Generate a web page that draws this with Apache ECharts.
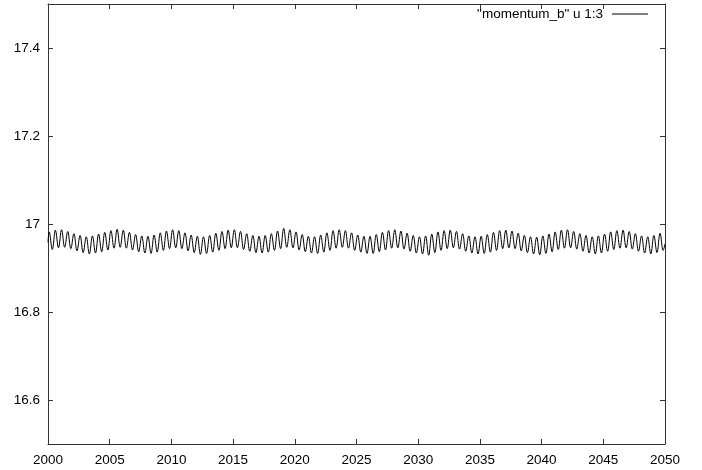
<!DOCTYPE html>
<html>
<head>
<meta charset="utf-8">
<script src="https://cdn.jsdelivr.net/npm/echarts@6/dist/echarts.min.js"></script>
<style>html,body{margin:0;padding:0;background:#fff}#c{width:702px;height:470px}</style>
</head>
<body>
<div id="c"></div>
<script>
// Semi-annual oscillation: peak and trough values
const seriesName = '"momentum_b" u 1:3';
const firstYear = 2000, lastYear = 2050;
const startValue = 16.958, endValue = 16.955;
const peakYearOffset = 0.1, troughYearOffset = 0.35, halfYear = 0.5;
const peaks = [
 16.982,16.986,16.987,16.983,16.978,16.974,16.971,16.973,16.977,
 16.981,16.985,16.988,16.986,16.981,16.976,16.973,16.972,16.975,
 16.980,16.984,16.987,16.985,16.980,16.975,16.972,16.971,16.974,
 16.979,16.983,16.986,16.987,16.983,16.978,16.974,16.972,16.974,
 16.978,16.984,16.990,16.987,16.982,16.976,16.972,16.971,16.975,
 16.980,16.985,16.987,16.985,16.980,16.975,16.972,16.972,16.976,
 16.981,16.985,16.987,16.984,16.979,16.974,16.971,16.973,16.977,
 16.982,16.985,16.986,16.983,16.978,16.973,16.971,16.972,16.976,
 16.981,16.985,16.986,16.984,16.979,16.974,16.971,16.970,16.973,
 16.977,16.982,16.986,16.987,16.983,16.978,16.974,16.971,16.973,
 16.977,16.982,16.985,16.986,16.983,16.978,16.973,16.971,16.974,16.979
];
const troughs = [
 16.942,16.946,16.947,16.944,16.939,16.935,16.932,16.934,16.937,
 16.941,16.945,16.947,16.945,16.941,16.937,16.934,16.933,16.936,
 16.940,16.944,16.946,16.944,16.939,16.935,16.931,16.933,16.936,
 16.940,16.944,16.946,16.946,16.942,16.938,16.935,16.934,16.936,
 16.940,16.944,16.947,16.946,16.941,16.937,16.934,16.933,16.936,
 16.940,16.945,16.947,16.945,16.940,16.936,16.933,16.933,16.937,
 16.941,16.945,16.946,16.943,16.938,16.934,16.932,16.929,16.935,
 16.940,16.944,16.946,16.943,16.938,16.934,16.932,16.933,16.936,
 16.940,16.944,16.946,16.944,16.939,16.935,16.932,16.930,16.933,
 16.937,16.942,16.945,16.946,16.943,16.938,16.934,16.932,16.934,
 16.938,16.942,16.945,16.946,16.943,16.938,16.934,16.932,16.935,16.940
];
const yTicks = [16.6, 16.8, 17, 17.2, 17.4];
const yMin = 16.5, yMax = 17.5;

const data = [[firstYear, startValue]];
for (let i = 0; i < peaks.length; i++) {
  data.push([firstYear + peakYearOffset + i * halfYear, peaks[i]]);
  data.push([firstYear + troughYearOffset + i * halfYear, troughs[i]]);
}
data.push([lastYear, endValue]);

const axisColor = '#333';
const font = 'Liberation Sans, Arial, sans-serif';
const fs = 13.5;
const chart = echarts.init(document.getElementById('c'), null, {renderer: 'canvas'});
const xCommon = {
  type: 'value', min: firstYear, max: lastYear, interval: 5,
  axisLine: {show: true, onZero: false, lineStyle: {color: axisColor, width: 1}},
  axisTick: {show: true, inside: true, length: 5, lineStyle: {color: axisColor}},
  splitLine: {show: false}
};
const yCommon = {
  type: 'value', min: yMin, max: yMax,
  axisLine: {show: true, onZero: false, lineStyle: {color: axisColor, width: 1}},
  axisTick: {show: true, inside: true, length: 5, customValues: yTicks, lineStyle: {color: axisColor}},
  splitLine: {show: false}
};
chart.setOption({
  animation: false,
  backgroundColor: '#fff',
  grid: {left: 48, right: 37, top: 4, bottom: 26, containLabel: false},
  legend: {
    show: true, right: 54, top: 7, bottom: 'auto', left: 'auto', align: 'right', orient: 'horizontal',
    itemWidth: 36, itemHeight: 1, itemGap: 0, padding: 0,
    icon: 'rect',
    textStyle: {fontFamily: font, fontSize: fs, color: '#000', padding: [0, 4, 0, 0]},
    data: [{name: seriesName, icon: 'rect', itemStyle: {color: '#000'}}]
  },
  xAxis: [
    Object.assign({}, xCommon, {position: 'bottom',
      axisLabel: {show: true, color: '#000', fontFamily: font, fontSize: fs, margin: 9, formatter: v => String(v)}}),
    Object.assign({}, xCommon, {position: 'top', axisLabel: {show: false}})
  ],
  yAxis: [
    Object.assign({}, yCommon, {position: 'left',
      axisLabel: {show: true, color: '#000', fontFamily: font, fontSize: fs, margin: 8, customValues: yTicks,
        formatter: v => String(Math.round(v * 10) / 10)}}),
    Object.assign({}, yCommon, {position: 'right', axisLabel: {show: false}})
  ],
  series: [{
    name: seriesName, type: 'line', data: data, xAxisIndex: 0, yAxisIndex: 0,
    symbol: 'none', showSymbol: false, smooth: 0.4,
    lineStyle: {color: '#000', width: 1}, itemStyle: {color: '#000'}
  }]
});
</script>
</body>
</html>
